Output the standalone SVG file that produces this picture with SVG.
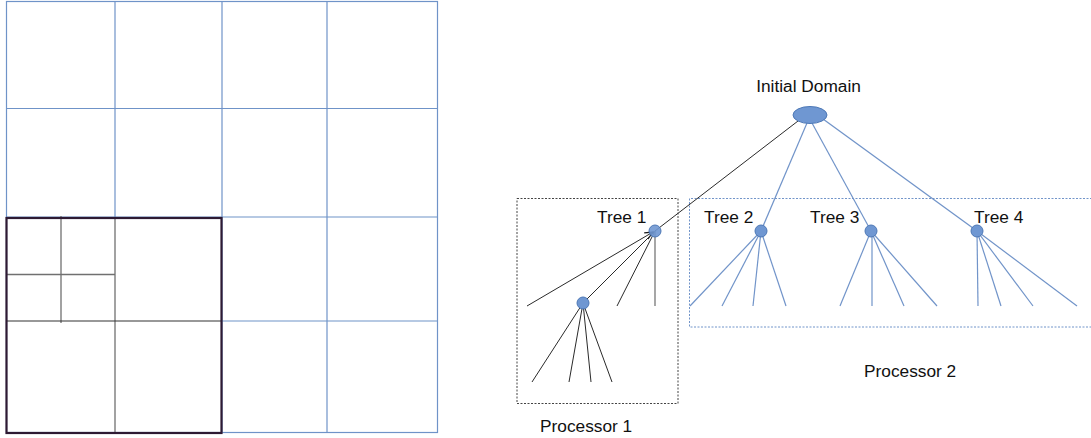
<svg xmlns="http://www.w3.org/2000/svg" width="1091" height="438" viewBox="0 0 1091 438">
  <style>
    .grid { stroke: #6f93c8; stroke-width: 1.2; fill: none; }
    .sub { stroke: #707070; stroke-width: 1.3; fill: none; }
    .subdark { stroke: #333333; stroke-width: 1.2; fill: none; }
    .edge-b { stroke: #7194c9; stroke-width: 1.2; fill: none; }
    .edge-k { stroke: #2a2a2a; stroke-width: 1; fill: none; }
    .node { fill: #6f97d2; stroke: #4d78b6; stroke-width: 1; }
    .lbl { font-family: "Liberation Sans", Arial, sans-serif; font-size: 17.3px; fill: #111111; }
  </style>
  <defs>
    <marker id="arrow" viewBox="0 0 10 10" refX="9" refY="5" markerWidth="9" markerHeight="9" orient="auto" markerUnits="userSpaceOnUse">
      <path d="M0,1 L9,5 L0,9" fill="none" stroke="#1a1a1a" stroke-width="1.4"/>
    </marker>
  </defs>

  <rect width="1091" height="438" fill="#ffffff"/>

  <!-- quadtree domain grid -->
  <g id="grid">
    <rect class="grid" x="6.5" y="1.5" width="431" height="431"/>
    <line class="grid" x1="115" y1="1.5" x2="115" y2="218"/>
    <line class="grid" x1="222" y1="1.5" x2="222" y2="432.5"/>
    <line class="grid" x1="327" y1="1.5" x2="327" y2="432.5"/>
    <line class="grid" x1="6.5" y1="108.5" x2="437.5" y2="108.5"/>
    <line class="grid" x1="6.5" y1="217" x2="437.5" y2="217"/>
    <line class="grid" x1="222" y1="321" x2="437.5" y2="321"/>
  </g>

  <!-- refined block owned by processor 1 -->
  <g id="refined-block">
    <line class="sub" x1="61" y1="216" x2="61" y2="323"/>
    <line class="sub" x1="115" y1="218" x2="115" y2="433"/>
    <line class="sub" x1="6.5" y1="274.5" x2="115" y2="274.5"/>
    <line class="subdark" x1="6.5" y1="321" x2="221.5" y2="321"/>
    <rect x="6.5" y="218" width="215" height="215" fill="none" stroke="#2e1a33" stroke-width="2.2"/>
  </g>

  <!-- processor boxes -->
  <g id="processor1">
    <rect x="517" y="198.5" width="161" height="205" fill="none" stroke="#444444" stroke-width="1" stroke-dasharray="2,1.5"/>
    <text class="lbl" x="540" y="432">Processor 1</text>
  </g>
  <g id="processor2">
    <path d="M1092,198.5 H689.5 V327 H1092" fill="none" stroke="#7194c9" stroke-width="1" stroke-dasharray="2,1.5"/>
    <text class="lbl" x="864" y="377">Processor 2</text>
  </g>

  <!-- connectors -->
  <g id="connectors">
    <!-- root to trees -->
    <line class="edge-k" x1="798" y1="121" x2="655" y2="231"/>
    <line class="edge-b" x1="807" y1="123" x2="761" y2="231"/>
    <line class="edge-b" x1="812" y1="123" x2="871" y2="231"/>
    <line class="edge-b" x1="823" y1="119" x2="977" y2="231"/>
    <!-- tree 1 -->
    <line class="edge-k" x1="527" y1="306" x2="653" y2="232" marker-end="url(#arrow)"/>
    <line class="edge-k" x1="583" y1="303" x2="655" y2="231"/>
    <line class="edge-k" x1="617" y1="306" x2="655" y2="231"/>
    <line x1="655" y1="231" x2="655" y2="306" stroke="#777777" stroke-width="1.3"/>
    <line class="edge-k" x1="583" y1="303" x2="532" y2="382"/>
    <line class="edge-k" x1="583" y1="303" x2="569" y2="382"/>
    <line class="edge-k" x1="583" y1="303" x2="591" y2="382"/>
    <line class="edge-k" x1="583" y1="303" x2="612" y2="382"/>
    <!-- tree 2 -->
    <line class="edge-b" x1="761" y1="231" x2="690" y2="306"/>
    <line class="edge-b" x1="761" y1="231" x2="722" y2="306"/>
    <line class="edge-b" x1="761" y1="231" x2="753" y2="306"/>
    <line class="edge-b" x1="761" y1="231" x2="786" y2="306"/>
    <!-- tree 3 -->
    <line class="edge-b" x1="871" y1="231" x2="840" y2="306"/>
    <line class="edge-b" x1="872" y1="231" x2="872" y2="306"/>
    <line class="edge-b" x1="871" y1="231" x2="904" y2="306"/>
    <line class="edge-b" x1="871" y1="231" x2="937" y2="306"/>
    <!-- tree 4 -->
    <line class="edge-b" x1="977" y1="231" x2="978" y2="306"/>
    <line class="edge-b" x1="977" y1="231" x2="1001" y2="306"/>
    <line class="edge-b" x1="977" y1="231" x2="1033" y2="306"/>
    <line class="edge-b" x1="977" y1="231" x2="1077" y2="306"/>
  </g>

  <!-- nodes -->
  <g id="root">
    <ellipse class="node" cx="810" cy="115" rx="17" ry="8.5"/>
    <text class="lbl" x="808.5" y="92" text-anchor="middle">Initial Domain</text>
  </g>
  <g id="tree1">
    <circle class="node" cx="655" cy="231" r="6" fill-opacity="0.9"/>
    <text class="lbl" x="597" y="223">Tree 1</text>
  </g>
  <g id="tree1-child">
    <circle class="node" cx="583" cy="303" r="6"/>
  </g>
  <g id="tree2">
    <circle class="node" cx="761" cy="231" r="6"/>
    <text class="lbl" x="704" y="223">Tree 2</text>
  </g>
  <g id="tree3">
    <circle class="node" cx="871" cy="231" r="6"/>
    <text class="lbl" x="810" y="223">Tree 3</text>
  </g>
  <g id="tree4">
    <circle class="node" cx="977" cy="231" r="6"/>
    <text class="lbl" x="974" y="223">Tree 4</text>
  </g>
</svg>
